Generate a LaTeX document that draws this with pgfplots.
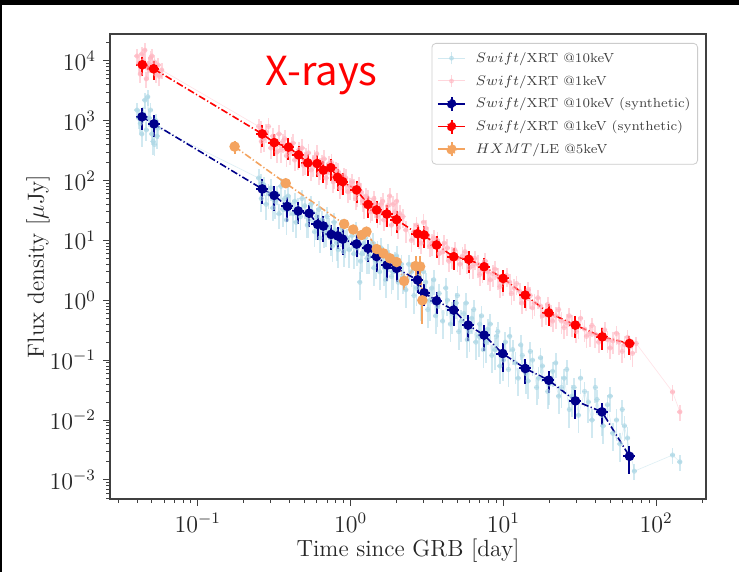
\documentclass[border=0pt]{standalone}
\usepackage{fontspec}
\usepackage{pgfplots}
\usepackage{pgfplotstable}
\pgfplotsset{compat=1.18}
\newfontfamily\cjk{Noto Sans CJK JP}
\definecolor{lb}{RGB}{173,216,230}
\definecolor{pk}{RGB}{255,182,193}
\definecolor{nv}{RGB}{0,0,139}
\definecolor{sb}{RGB}{244,164,96}

\pgfplotstableread{
t f e
0.040 1500 0.3
0.042 900 0.3
0.044 1300 0.3
0.045 2200 0.3
0.046 700 0.35
0.047 2500 0.3
0.048 1100 0.3
0.050 600 0.35
0.051 450 0.4
0.052 400 0.35
0.053 1000 0.3
0.055 750 0.35
0.25 110 0.4
0.26 50 0.4
0.27 85 0.35
0.28 40 0.45
0.30 75 0.4
0.31 35 0.4
0.33 60 0.35
0.34 28 0.45
0.37 50 0.4
0.38 22 0.45
0.40 40 0.35
0.43 45 0.4
0.44 20 0.45
0.47 25 0.4
0.50 38 0.4
0.52 18 0.4
0.56 30 0.4
0.58 14 0.45
0.60 25 0.4
0.63 11 0.45
0.65 22 0.4
0.69 13 0.4
0.72 17 0.4
0.76 8 0.45
0.79 15 0.4
0.83 7 0.5
0.86 13 0.4
0.90 6.5 0.45
0.95 11 0.4
1.02 12 0.4
1.05 6 0.45
1.12 10 0.4
1.15 2.0 0.5
1.16 4.5 0.5
1.22 9 0.4
1.28 5 0.45
1.35 8 0.4
1.42 3.5 0.5
1.50 7 0.4
1.55 3 0.5
1.62 5.5 0.4
1.70 2.2 0.5
1.78 5 0.4
1.85 2.5 0.5
1.95 4.5 0.4
2.05 2 0.5
2.15 4 0.4
2.3 1.5 0.5
2.5 3 0.45
2.6 1.2 0.5
2.8 2.5 0.45
2.9 0.9 0.5
3.1 2 0.45
3.2 0.7 0.5
3.4 1.6 0.45
3.6 0.55 0.5
3.8 1.3 0.45
4.0 0.45 0.5
4.3 1.0 0.45
4.5 0.4 0.5
4.9 0.9 0.45
5.1 0.3 0.5
5.5 0.6 0.45
5.8 0.22 0.5
6.2 0.5 0.45
6.6 0.2 0.5
7.0 0.4 0.45
7.4 0.15 0.5
7.9 0.33 0.45
8.4 0.12 0.5
9.0 0.25 0.45
9.5 0.08 0.5
10.3 0.2 0.45
10.8 0.07 0.5
11.5 0.15 0.45
12.5 0.05 0.5
13.3 0.12 0.45
14.5 0.045 0.5
15.5 0.1 0.45
16.5 0.035 0.5
18 0.08 0.45
19.5 0.03 0.5
21 0.065 0.45
23 0.025 0.5
25 0.05 0.45
27 0.015 0.5
29 0.035 0.45
31 0.012 0.5
34 0.03 0.45
38 0.01 0.5
41 0.022 0.45
45 0.008 0.5
48 0.018 0.45
52 0.006 0.5
58 0.004 0.5
62 0.008 0.45
72 0.0014 0.3
128 0.0026 0.3
143 0.002 0.3
}\obsblue

\pgfplotstableread{
t f e
0.041 1100 0.35
0.043 600 0.4
0.049 1500 0.3
0.054 550 0.4
0.26 90 0.45
0.29 60 0.45
0.32 45 0.5
0.35 80 0.4
0.36 33 0.5
0.39 55 0.45
0.42 28 0.5
0.45 35 0.45
0.48 50 0.4
0.53 22 0.5
0.55 40 0.4
0.59 20 0.5
0.62 33 0.4
0.67 15 0.5
0.70 25 0.45
0.74 11 0.5
0.78 20 0.45
0.81 9 0.5
0.88 16 0.45
0.92 10 0.5
0.98 7 0.5
1.08 14 0.45
1.10 7.5 0.5
1.19 6 0.5
1.25 11 0.45
1.32 5.5 0.5
1.40 9 0.45
1.47 4.5 0.5
1.58 7.5 0.45
1.66 3.5 0.5
1.75 6 0.45
1.90 3 0.5
2.0 5.5 0.45
2.2 2.5 0.5
2.4 4 0.45
2.7 1.6 0.5
3.0 3 0.45
3.3 1.0 0.55
3.5 2.2 0.45
3.7 0.8 0.55
4.2 1.6 0.45
4.6 0.6 0.55
5.0 1.2 0.45
5.3 0.45 0.55
5.7 0.9 0.45
6.0 0.3 0.55
6.4 0.7 0.45
6.9 0.25 0.55
7.2 0.55 0.45
7.7 0.2 0.55
8.2 0.4 0.45
8.8 0.15 0.55
9.2 0.3 0.45
10 0.1 0.55
11 0.25 0.45
12 0.09 0.55
13 0.18 0.45
14 0.06 0.55
15 0.14 0.45
17 0.05 0.55
17.5 0.11 0.45
20 0.04 0.55
22 0.09 0.45
24 0.035 0.55
26 0.07 0.45
28 0.025 0.55
32 0.05 0.45
36 0.02 0.55
40 0.035 0.45
44 0.012 0.55
50 0.025 0.45
55 0.01 0.55
60 0.015 0.45
65 0.005 0.55
}\obsblueb

\pgfplotstableread{
t f e
0.040 12000 0.3
0.042 6000 0.3
0.044 10000 0.3
0.045 15000 0.3
0.046 5000 0.3
0.048 9000 0.3
0.050 12000 0.3
0.053 6000 0.3
0.055 8500 0.3
0.058 7000 0.3
0.25 800 0.35
0.26 450 0.35
0.28 650 0.35
0.30 350 0.35
0.31 550 0.35
0.33 300 0.35
0.36 450 0.35
0.38 260 0.35
0.41 400 0.35
0.43 220 0.35
0.46 330 0.35
0.49 180 0.35
0.51 260 0.35
0.55 150 0.35
0.58 240 0.35
0.62 130 0.35
0.65 200 0.35
0.69 110 0.35
0.72 190 0.35
0.77 95 0.35
0.80 150 0.35
0.85 75 0.35
0.90 120 0.35
0.96 65 0.35
1.02 95 0.35
1.08 50 0.35
1.13 85 0.35
1.20 45 0.35
1.26 55 0.35
1.35 30 0.35
1.42 50 0.35
1.50 25 0.35
1.58 40 0.35
1.65 22 0.35
1.75 38 0.35
1.80 55 0.35
1.85 18 0.35
1.95 30 0.35
2.0 45 0.35
2.05 16 0.35
2.2 25 0.35
2.5 10 0.35
2.7 18 0.35
2.9 9 0.35
3.1 16 0.35
3.3 8 0.35
3.5 11 0.35
3.8 6 0.35
4.1 9 0.35
4.4 4.5 0.35
4.8 7 0.35
5.2 4 0.35
5.6 6.5 0.35
6.0 3.5 0.35
6.5 5 0.35
7.0 2.7 0.35
7.6 4.5 0.35
8.2 2.2 0.35
8.8 3.3 0.35
9.5 1.7 0.35
10.5 2.6 0.35
11.3 1.3 0.35
12.2 1.9 0.35
13.2 0.9 0.35
14.5 1.5 0.35
15.5 0.75 0.35
16.8 1.1 0.35
18 0.55 0.35
19.5 0.85 0.35
21 0.45 0.35
23 0.7 0.35
25 0.35 0.35
27 0.55 0.35
30 0.3 0.35
32 0.5 0.35
35 0.25 0.35
38 0.38 0.35
42 0.2 0.35
46 0.32 0.35
50 0.16 0.35
55 0.28 0.35
60 0.14 0.35
65 0.24 0.35
74 0.19 0.3
128 0.0295 0.3
143 0.0137 0.3
}\obsred

\pgfplotstableread{
t f e
0.041 9000 0.3
0.043 13000 0.3
0.047 7500 0.3
0.049 11000 0.3
0.052 9500 0.3
0.056 5500 0.3
0.26 700 0.4
0.27 500 0.4
0.29 800 0.4
0.32 420 0.4
0.34 600 0.4
0.35 330 0.4
0.37 500 0.4
0.40 300 0.4
0.42 420 0.4
0.45 250 0.4
0.48 350 0.4
0.50 210 0.4
0.53 290 0.4
0.57 190 0.4
0.60 280 0.4
0.63 170 0.4
0.67 230 0.4
0.70 140 0.4
0.75 200 0.4
0.78 120 0.4
0.83 140 0.4
0.88 95 0.4
0.93 110 0.4
0.99 80 0.4
1.05 75 0.4
1.10 60 0.4
1.17 65 0.4
1.23 38 0.4
1.30 50 0.4
1.38 35 0.4
1.45 40 0.4
1.55 30 0.4
1.62 45 0.4
1.70 28 0.4
1.90 40 0.4
2.1 28 0.4
2.3 15 0.4
2.6 14 0.4
2.8 12 0.4
3.0 20 0.4
3.2 12 0.4
3.4 9 0.4
3.7 10 0.4
4.0 6.5 0.4
4.3 7.5 0.4
4.6 5.5 0.4
5.0 5 0.4
5.4 5.5 0.4
5.8 4.5 0.4
6.3 3.8 0.4
6.8 4 0.4
7.3 3.2 0.4
7.9 3 0.4
8.5 2.8 0.4
9.2 2.5 0.4
10 2 0.4
11 2 0.4
11.8 1.6 0.4
12.8 1.4 0.4
14 1.1 0.4
15 1.2 0.4
16 0.9 0.4
17.5 0.8 0.4
19 0.65 0.4
20.5 0.6 0.4
22 0.55 0.4
24 0.45 0.4
26 0.42 0.4
28 0.4 0.4
31 0.38 0.4
34 0.33 0.4
37 0.28 0.4
40 0.27 0.4
44 0.26 0.4
48 0.22 0.4
52 0.21 0.4
57 0.2 0.4
62 0.18 0.4
68 0.17 0.4
70 0.13 0.4
}\obsredb

\pgfplotstableread{
t f e
0.0431 1160 0.4
0.0516 884 0.4
0.264 72.4 0.45
0.316 56.4 0.45
0.385 36.9 0.45
0.454 31.0 0.4
0.535 28.4 0.4
0.608 18.5 0.45
0.663 17.4 0.45
0.746 12.6 0.45
0.822 11.9 0.4
0.887 10.5 0.45
1.094 8.71 0.4
1.30 7.38 0.4
1.479 5.38 0.45
1.733 3.88 0.45
1.999 3.41 0.4
2.74 2.18 0.4
3.03 1.33 0.4
3.65 0.98 0.4
4.73 0.686 0.45
5.88 0.385 0.45
7.48 0.262 0.45
9.89 0.129 0.5
13.9 0.0726 0.45
19.8 0.0463 0.4
29.6 0.0209 0.5
44.2 0.0137 0.4
66.9 0.00248 0.5
}\synblue

\pgfplotstableread{
t f e
0.0433 8580 0.35
0.0513 7350 0.35
0.264 601 0.4
0.316 430 0.4
0.392 361 0.4
0.456 268 0.4
0.524 197 0.4
0.604 192 0.4
0.663 149 0.4
0.742 164 0.4
0.822 113 0.4
0.888 95.9 0.4
1.094 69.7 0.4
1.30 39.8 0.4
1.479 32.2 0.4
1.727 27.6 0.4
1.999 22.2 0.4
2.74 12.9 0.4
3.03 12.3 0.4
3.65 8.38 0.4
4.73 5.34 0.4
5.93 4.83 0.4
7.48 3.63 0.4
9.95 2.32 0.4
13.9 1.22 0.4
19.8 0.618 0.4
29.6 0.385 0.4
44.4 0.245 0.4
66.9 0.190 0.35
}\synred

\pgfplotstableread{
t f e
0.174 369 0.25
0.376 90.1 0.15
0.907 18.8 0.15
1.04 15.2 0.15
1.18 12.3 0.15
1.27 14.0 0.2
1.48 7.18 0.15
1.64 6.08 0.15
1.81 5.02 0.15
2.0 4.35 0.15
2.24 2.10 0.3
2.66 3.73 0.5
2.85 3.66 0.5
2.95 1.0 0.6
}\hxmt

\pgfplotsset{
  obsstyle/.style={#1, only marks, opacity=0.55, mark=*, mark size=1.1pt, mark options={draw=none, fill=#1},
    error bars/x dir=both, error bars/x fixed relative=0.04,
    error bars/y dir=both, error bars/y explicit relative, error bars/error mark=none,
    error bars/error bar style={line width=0.9pt, #1}},
  synstyle/.style={#1, line width=0.8pt, dash pattern=on 3.5pt off 1.2pt on 0.6pt off 1.2pt,
    mark=*, mark size=2pt, mark options={solid, draw=none, fill=#1},
    error bars/x dir=both, error bars/x fixed relative=0.09,
    error bars/y dir=both, error bars/y explicit relative, error bars/error mark=none,
    error bars/error bar style={line width=1pt, solid, #1}},
}

\begin{document}
\begin{tikzpicture}
\useasboundingbox (0,0) rectangle (369.5pt,286pt);
\fill[white] (0,0) rectangle (369.5pt,286pt);
\fill[black] (0,283.5pt) rectangle (369.5pt,286pt);
\fill[black] (0,0) rectangle (1pt,286pt);
\begin{axis}[
  at={(55pt,36.5pt)}, anchor=south west,
  scale only axis, width=298pt, height=232.5pt,
  xmode=log, ymode=log,
  xmin=0.0266, xmax=212, ymin=4.8e-4, ymax=2.8e4,
  axis line style={black!75, line width=0.6pt},
  tick align=outside, xtick pos=left, ytick pos=left,
  major tick length=3.5pt, minor tick length=2pt,
  every tick/.style={black!75, line width=0.5pt},
  minor tick style={black!75, line width=0.4pt},
  xtick={0.1,1,10,100},
  minor xtick={0.03,0.04,0.05,0.06,0.07,0.08,0.09,0.2,0.3,0.4,0.5,0.6,0.7,0.8,0.9,2,3,4,5,6,7,8,9,20,30,40,50,60,70,80,90,200},
  ytick={1e-3,1e-2,1e-1,1,10,100,1000,10000},
  minor ytick={5e-4,6e-4,7e-4,8e-4,9e-4,2e-3,3e-3,4e-3,5e-3,6e-3,7e-3,8e-3,9e-3,2e-2,3e-2,4e-2,5e-2,6e-2,7e-2,8e-2,9e-2,0.2,0.3,0.4,0.5,0.6,0.7,0.8,0.9,2,3,4,5,6,7,8,9,20,30,40,50,60,70,80,90,200,300,400,500,600,700,800,900,2000,3000,4000,5000,6000,7000,8000,9000,20000},
  tick label style={font=\fontsize{11.7}{14}\selectfont, black!85},
  xlabel={Time since GRB [day]},
  ylabel={Flux density [$\mu$Jy]},
  label style={font=\fontsize{11.7}{14}\selectfont, black!85},
  xlabel style={at={(axis description cs:0.5,-0.1118)}, anchor=center},
  ylabel style={at={(axis description cs:-0.1208,0.5)}, anchor=center},
  legend style={at={(axis description cs:1,1)}, anchor=north east, xshift=-4pt, yshift=-4.5pt,
    draw=black!20, rounded corners=2pt, fill=white, text=black!75,
    font=\fontsize{6.6}{8}\selectfont,
    nodes={inner sep=1pt, text height=6pt, text depth=1.8pt}, row sep=1.6pt, inner sep=2.5pt},
  legend cell align=left,
]
% observed 10 keV: connecting line, then points
\addplot[lb, line width=0.3pt, opacity=0.4, forget plot] table[x=t, y=f]{\obsblue};
\addplot[obsstyle=lb, forget plot] table[x=t, y=f, y error=e]{\obsblueb};
\addplot[obsstyle=lb,
  legend image code/.code={
    \draw[solid, lb, line width=0.5pt] (0pt,0pt) -- (13.7pt,0pt);
    \draw[solid, lb, line width=0.8pt] (6.85pt,-3pt) -- (6.85pt,3pt);
    \fill[lb] (6.85pt,0pt) circle (1pt);
    \path (17.5pt,0pt);}]
  table[x=t, y=f, y error=e]{\obsblue};
\addlegendentry{$Swift$/XRT @10keV}
% observed 1 keV
\addplot[pk, line width=0.3pt, opacity=0.4, forget plot] table[x=t, y=f]{\obsred};
\addplot[obsstyle=pk, forget plot] table[x=t, y=f, y error=e]{\obsredb};
\addplot[obsstyle=pk,
  legend image code/.code={
    \draw[solid, pk, line width=0.5pt] (0pt,0pt) -- (13.7pt,0pt);
    \draw[solid, pk, line width=0.8pt] (6.85pt,-3pt) -- (6.85pt,3pt);
    \fill[pk] (6.85pt,0pt) circle (1pt);
    \path (17.5pt,0pt);}]
  table[x=t, y=f, y error=e]{\obsred};
\addlegendentry{$Swift$/XRT @1keV}
% synthetic 10 keV
\addplot[synstyle=nv,
  legend image code/.code={
    \draw[solid, nv, line width=0.9pt] (0pt,0pt) -- (13.7pt,0pt);
    \draw[solid, nv, line width=1pt] (6.85pt,-3.5pt) -- (6.85pt,3.5pt);
    \fill[nv] (6.85pt,0pt) circle (2pt);
    \path (17.5pt,0pt);}]
  table[x=t, y=f, y error=e]{\synblue};
\addlegendentry{$Swift$/XRT @10keV (synthetic)}
% synthetic 1 keV
\addplot[synstyle=red,
  legend image code/.code={
    \draw[solid, red, line width=0.9pt] (0pt,0pt) -- (13.7pt,0pt);
    \draw[solid, red, line width=1pt] (6.85pt,-3.5pt) -- (6.85pt,3.5pt);
    \fill[red] (6.85pt,0pt) circle (2pt);
    \path (17.5pt,0pt);}]
  table[x=t, y=f, y error=e]{\synred};
\addlegendentry{$Swift$/XRT @1keV (synthetic)}
% HXMT
\addplot[sb, line width=0.8pt, dash pattern=on 3.5pt off 1.2pt on 0.6pt off 1.2pt,
  mark=*, mark size=2.2pt, mark options={solid, draw=none, fill=sb},
  error bars/y dir=both, error bars/y explicit relative, error bars/error mark=none,
  error bars/error bar style={line width=1pt, solid, sb},
  legend image code/.code={
    \draw[solid, sb, line width=0.9pt] (0pt,0pt) -- (13.7pt,0pt);
    \draw[solid, sb, line width=1pt] (6.85pt,-3.5pt) -- (6.85pt,3.5pt);
    \fill[sb] (6.85pt,0pt) circle (2.2pt);
    \path (17.5pt,0pt);}]
  table[x=t, y=f, y error=e]{\hxmt};
\addlegendentry{$HXMT$/LE @5keV}
\node[anchor=base, text=red, font=\cjk\fontsize{20}{24}\selectfont] at (axis description cs:0.355,0.890) {X-rays};
\end{axis}
\end{tikzpicture}
\end{document}
